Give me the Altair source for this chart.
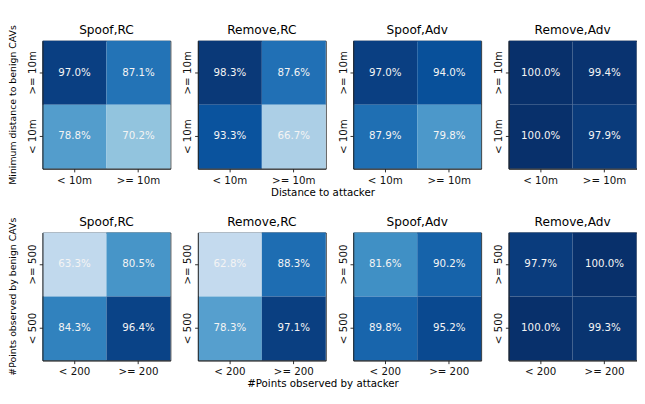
import altair as alt
import pandas as pd

panels = ["Spoof,RC", "Remove,RC", "Spoof,Adv", "Remove,Adv"]

# Row 1: distance
dist_x = ["< 10m", ">= 10m"]
dist_y = [">= 10m", "< 10m"]
# order: (y0,x0), (y0,x1), (y1,x0), (y1,x1)
dist_spoof_rc = [97.0, 87.1, 78.8, 70.2]
dist_remove_rc = [98.3, 87.6, 93.3, 66.7]
dist_spoof_adv = [97.0, 94.0, 87.9, 79.8]
dist_remove_adv = [100.0, 99.4, 100.0, 97.9]

# Row 2: points observed
pts_x = ["< 200", ">= 200"]
pts_y = [">= 500", "< 500"]
pts_spoof_rc = [63.3, 80.5, 84.3, 96.4]
pts_remove_rc = [62.8, 88.3, 78.3, 97.1]
pts_spoof_adv = [81.6, 90.2, 89.8, 95.2]
pts_remove_adv = [97.7, 100.0, 100.0, 99.3]

blues = ["#f7fbff", "#deebf7", "#c6dbef", "#9ecae1", "#6baed6",
         "#4292c6", "#2171b5", "#08519c", "#08306b"]
color_domain = [50 + i * 50 / 8 for i in range(9)]

FONT = "DejaVu Sans"
W, H = 137, 137


def make_df(vals, xs, ys):
    rows = []
    k = 0
    for yv in ys:
        for xv in xs:
            rows.append({"xcat": xv, "ycat": yv, "val": vals[k],
                         "label": f"{vals[k]:.1f}%"})
            k += 1
    return pd.DataFrame(rows)


def panel(vals, title, xs, ys):
    df = make_df(vals, xs, ys)
    base = alt.Chart(df).encode(
        x=alt.X("xcat:N", sort=xs,
                scale=alt.Scale(paddingInner=0, paddingOuter=0),
                axis=alt.Axis(title=None, labelAngle=0, labelFontSize=11,
                              labelPadding=3, tickSize=3.5)),
        y=alt.Y("ycat:N", sort=ys,
                scale=alt.Scale(paddingInner=0, paddingOuter=0),
                axis=alt.Axis(title=None,
                              labelAngle=-90, labelAlign="center",
                              labelBaseline="bottom", labelFontSize=11,
                              labelPadding=2, tickSize=3.5)),
    )
    rect = base.mark_rect().encode(
        color=alt.Color("val:Q", scale=alt.Scale(domain=color_domain, range=blues,
                                                 clamp=True), legend=None)
    )
    text = base.mark_text(color="#f4f4f4", fontSize=11, font=FONT).encode(
        text="label:N")
    return (rect + text).properties(
        width=W, height=H,
        title=alt.TitleParams(title, fontSize=13, fontWeight="normal",
                              font=FONT, offset=4, anchor="middle"))


def make_row(vals_list, xs, ys, ytitle, xtitle):
    inner = alt.hconcat(*[panel(v, t, xs, ys) for v, t in zip(vals_list, panels)],
                        spacing=10.5).properties(
        title=alt.TitleParams(ytitle, orient="left", anchor="middle",
                              fontSize=10, fontWeight="normal", font=FONT,
                              offset=9))
    return alt.vconcat(inner).properties(
        title=alt.TitleParams(xtitle, orient="bottom", anchor="middle",
                              fontSize=11, fontWeight="normal", font=FONT,
                              offset=2))


row1 = make_row([dist_spoof_rc, dist_remove_rc, dist_spoof_adv, dist_remove_adv],
                dist_x, dist_y, "Minimum distance to benign CAVs", "Distance to attacker")
row2 = make_row([pts_spoof_rc, pts_remove_rc, pts_spoof_adv, pts_remove_adv],
                pts_x, pts_y, "#Points observed by benign CAVs", "#Points observed by attacker")

chart = alt.vconcat(row1, row2, spacing=19.5).resolve_scale(color="shared").configure(
    font=FONT, padding={"left": 0, "top": 3, "right": 0, "bottom": 0}
).configure_view(stroke="#222222", strokeWidth=1).configure_axis(
    domainColor="#222222", tickColor="#222222", labelColor="#111111",
    titleColor="#111111", labelFont=FONT, titleFont=FONT
)

chart.save("out.html", embed_options={"renderer": "svg", "actions": False})
